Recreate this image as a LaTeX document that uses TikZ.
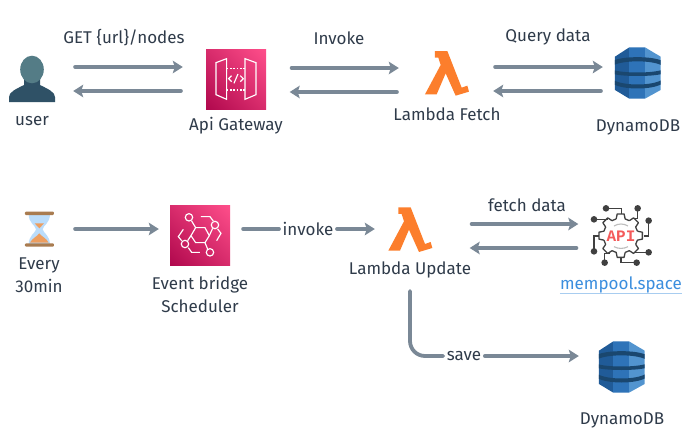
\documentclass[tikz,border=0pt]{standalone}
\usepackage{fontspec}
\setmainfont{Fira Sans}
\newfontfamily\apifont{Liberation Mono}
\usetikzlibrary{arrows.meta,shadings}
\definecolor{txt}{HTML}{2F3B4A}
\definecolor{conn}{HTML}{7A8896}
\definecolor{dbL}{HTML}{205B98}
\definecolor{dbM}{HTML}{2E73B8}
\definecolor{dbR}{HTML}{5294CF}
\definecolor{dbD}{HTML}{1A476F}
\definecolor{lam}{HTML}{FC7E2C}
\definecolor{lnk}{HTML}{3B8EDE}
\definecolor{gear}{HTML}{404040}
\definecolor{ubody}{HTML}{2F5166}
\definecolor{uhead}{HTML}{547C86}
\definecolor{pinkA}{HTML}{B0084D}
\definecolor{pinkB}{HTML}{FF4F8B}
\definecolor{pinkM}{HTML}{D82C6C}
\definecolor{glass}{HTML}{BBDDFB}
\definecolor{sand}{HTML}{ED9E5F}
\definecolor{wood}{HTML}{A97C50}
\definecolor{apigrey}{HTML}{BDBDBD}
\definecolor{apired}{HTML}{F45A5A}
\definecolor{lnkline}{HTML}{A8CDF0}
\tikzset{
  lbl/.style={text=txt,font=\fontsize{17}{18}\selectfont,inner sep=0pt},
  onconn/.style={lbl,inner sep=3pt},
  anch/.style={inner sep=0pt,minimum height=1pt},
  conline/.style={draw=conn,line width=3.8pt,line cap=round,shorten <=1.9pt,shorten >=1.9pt},
  conarrow/.style={conline,shorten >=0pt,-{Stealth[length=10pt,width=12.5pt,inset=2pt]}},
  white line/.style={draw=white,line width=1.15pt,line join=miter},
  gearline/.style={draw=gear,line width=1.3pt},
  pinkfill/.style={upper right=pinkB,lower left=pinkA,upper left=pinkM,lower right=pinkM},
}
\newcommand{\lambdaicon}[2]{%
\begin{scope}[shift={(#1,#2)},x=.3333pt,y=-.3333pt]
\fill[lam] (165,93)--(202,93)--(245,203)--(262,197)--(267,215)--(227,227)--(197,160)--(170,223)--(135,223)--(182,135)--(175,113)--(165,113)--cycle;
\end{scope}}
\newcommand{\dbicon}[2]{%
\begin{scope}[shift={(#1,#2)},x=.3333pt,y=-.3333pt]
\begin{scope}
\clip (705,110)--(748,82)--(795,82)--(842,110)--(842,210)--(795,236)--(748,236)--(705,210)--cycle;
\fill[dbL] (700,80) rectangle (748,240);
\fill[dbM] (748,80) rectangle (795,240);
\fill[dbR] (795,80) rectangle (845,240);
\fill[dbD] (700,122)..controls (730,108) and (815,108)..(845,122)--(845,136)..controls (815,120) and (730,120)..(700,136)--cycle;
\fill[dbD] (700,150)..controls (730,160) and (815,160)..(845,150)--(845,162)..controls (815,170) and (730,170)..(700,162)--cycle;
\fill[dbD] (700,180)..controls (730,198) and (815,198)..(845,180)--(845,192)..controls (815,210) and (730,210)..(700,192)--cycle;
\end{scope}
\end{scope}}
\begin{document}
\begin{tikzpicture}[x=1pt,y=-1pt]
\useasboundingbox (0,0) rectangle (699,440);
\fill[white] (0,0) rectangle (699,440);
% --- user icon
\fill[ubody] (9,102)--(9,97)..controls (9,92) and (16,89)..(24,85)--(24,76)--(40,76)--(40,85)..controls (48,89) and (55,92)..(55,97)--(55,102)--cycle;
\fill[uhead] (32,69.5) ellipse [x radius=11.8,y radius=13.8];
% --- gateway icon
\shade[pinkfill] (206,49) rectangle (266,109);
\begin{scope}[shift={(0,20)},x=.3333pt,y=-.3333pt]
\draw[white line] (648,128)--(680,116)--(680,238)--(648,224)--cycle;
\draw[white line] (735,116)--(768,128)--(768,224)--(735,238)--cycle;
\draw[white line,dash pattern=on 1.8pt off 1.5pt] (680,146)--(735,146) (680,210)--(735,210);
\draw[white line] (695,167)--(686,176)--(695,185) (721,167)--(730,176)--(721,185) (702,190)--(714,162);
\end{scope}
% --- lambda / dynamo
\lambdaicon{380}{20}
\dbicon{380}{20}
\lambdaicon{343.33}{176.33}
\dbicon{364}{314}
% --- hourglass
\begin{scope}[shift={(0,190)},x=.3333pt,y=-.3333pt]
\fill[glass] (86,72)--(150,72)..controls (150,100) and (130,105)..(128,118)..controls (130,130) and (150,135)..(150,165)--(86,165)..controls (86,135) and (106,130)..(108,118)..controls (106,105) and (86,100)..(86,72)--cycle;
\fill[sand] (104,100)--(132,100)--(118,115)--cycle;
\fill[sand] (118,130)..controls (125,140) and (140,145)..(146,158)--(90,158)..controls (96,145) and (111,140)..(118,130)--cycle;
\fill[wood,rounded corners=1pt] (75,65) rectangle (162,75);
\fill[wood,rounded corners=1pt] (75,160) rectangle (162,170);
\end{scope}
% --- event bridge icon
\shade[pinkfill] (170,205) rectangle (230,265);
\begin{scope}[shift={(0,190)},x=.3333pt,y=-.3333pt]
\draw[white line] (573,137)--(587,113)--(615,113)--(628,137)--(615,158)--(587,158)--cycle;
\foreach \cx/\cy in {567/82,645/105,555/162,630/187}
  \draw[white line] (\cx,\cy) circle [radius=3.7pt];
\draw[white line] (575,93)--(587,113) (628,137)--(638,115) (615,158)--(623,177) (573,137)--(563,152)
  (603,80)--(630,80)--(640,93) (653,117)--(663,130)--(650,152)
  (550,118)--(535,140)--(545,152) (565,173)--(575,187)--(600,187);
\end{scope}
% --- API icon
\begin{scope}[shift={(540,190)},x=.3333pt,y=-.3333pt]
\foreach \a in {0,45,...,315}
  \draw[gearline,line join=round] ({242+52*cos(\a-15)},{137+52*sin(\a-15)})
    --({242+66*cos(\a-9)},{137+66*sin(\a-9)})
    --({242+66*cos(\a+9)},{137+66*sin(\a+9)})
    --({242+52*cos(\a+15)},{137+52*sin(\a+15)})
    --({242+52*cos(\a+30)},{137+52*sin(\a+30)});
\draw[gearline] (198,55)--(245,55)--(245,72) (293,55)--(293,85)--(280,85) (326,92)--(326,138)--(312,138)
  (162,88)--(205,88) (162,184)--(162,138)--(176,138) (326,187)--(285,187)
  (290,218)--(243,218)--(243,204) (194,218)--(194,190)--(210,190);
\foreach \cx/\cy in {198/55,293/55,326/92,162/88,162/184,326/187,290/218,194/218}
  \fill[gear] (\cx,\cy) circle [radius=3.3pt];
\draw[apigrey,line width=1.1pt] (222,108)..controls (235,100) and (251,100)..(264,108) (222,170)..controls (235,177) and (251,177)..(264,170);
\node[text=apired,draw=none,font=\fontsize{16}{16}\apifont\bfseries,inner sep=0pt] (apitxt) at (243,138) {API};
\end{scope}
% --- anchor boxes
\node[anch,minimum width=82pt] (user) at (32,79) {};
\node[anch,minimum width=106.5pt] (gw) at (236.25,79) {};
\node[anch,minimum width=94pt] (lf) at (446,79) {};
\node[anch,minimum width=70pt] (db) at (638,79) {};
\node[anch,minimum width=68pt] (hg) at (39,229) {};
\node[anch,minimum width=82pt] (eb) at (200,229) {};
\node[anch,minimum width=94.5pt] (lux) at (422.25,236) {};
\node[anch,minimum width=85pt] (api) at (621,236) {};
\node[anch,minimum width=86pt] (db2) at (622,356) {};
% --- labels
\node[lbl] (l1) at (124,38) {GET \{url\}/nodes};
\node[lbl] (l2) at (32,121) {user};
\node[lbl] (l3) at (236,126) {Api Gateway};
\node[lbl] (l4) at (339,38) {Invoke};
\node[lbl] (l5) at (447,114) {Lambda Fetch};
\node[lbl] (l6) at (548,37) {Query data};
\node[lbl] (l7) at (638,127) {DynamoDB};
\node[lbl,align=center] (l8) at (39,275.5) {Every\\[5pt]30min};
\node[lbl,align=center] (l9) at (200,294) {Event bridge\\[5pt]Scheduler};
\node[lbl,minimum height=38pt] (lu) at (410,270) {Lambda Update};
\node[lbl] (l10) at (527,205) {fetch data};
\node[lbl,text=lnk] (mp) at (621,285) {mempool.space};
\draw[lnkline,line width=.9pt] (mp.base west |- 0,293) -- (mp.base east |- 0,293);
\node[lbl] (l11) at (622,420) {DynamoDB};
\node[onconn] (inv) at (308,229) {invoke};
\node[onconn] (sv) at (464,356) {save};
% --- connectors
\draw[conarrow] ([yshift=12pt]user.east) -- ([yshift=12pt]gw.west);
\draw[conarrow] ([yshift=-12pt]gw.west) -- ([yshift=-12pt]user.east);
\draw[conarrow] ([yshift=11pt]gw.east) -- ([yshift=11pt]lf.west);
\draw[conarrow] ([yshift=-13pt]lf.west) -- ([yshift=-13pt]gw.east);
\draw[conarrow] ([yshift=12pt]lf.east) -- ([yshift=12pt]db.west);
\draw[conarrow] ([yshift=-12pt]db.west) -- ([yshift=-12pt]lf.east);
\draw[conarrow] (hg.east) -- (eb.west);
\draw[conline,shorten >=.5pt,shorten <=1.9pt] (eb.east) -- (inv.west);
\draw[conarrow,shorten <=.5pt] (inv.east) -- ([yshift=7pt]lux.west);
\draw[conarrow] ([yshift=12pt]lux.east) -- ([yshift=12pt]api.west);
\draw[conarrow] ([yshift=-12pt]api.west) -- ([yshift=-12pt]lux.east);
\draw[conline,rounded corners=15pt,shorten >=.5pt] (lu.south) -- (lu.south |- sv.west) -- (sv.west);
\draw[conarrow,shorten <=.5pt] (sv.east) -- (db2.west);
\end{tikzpicture}
\end{document}
